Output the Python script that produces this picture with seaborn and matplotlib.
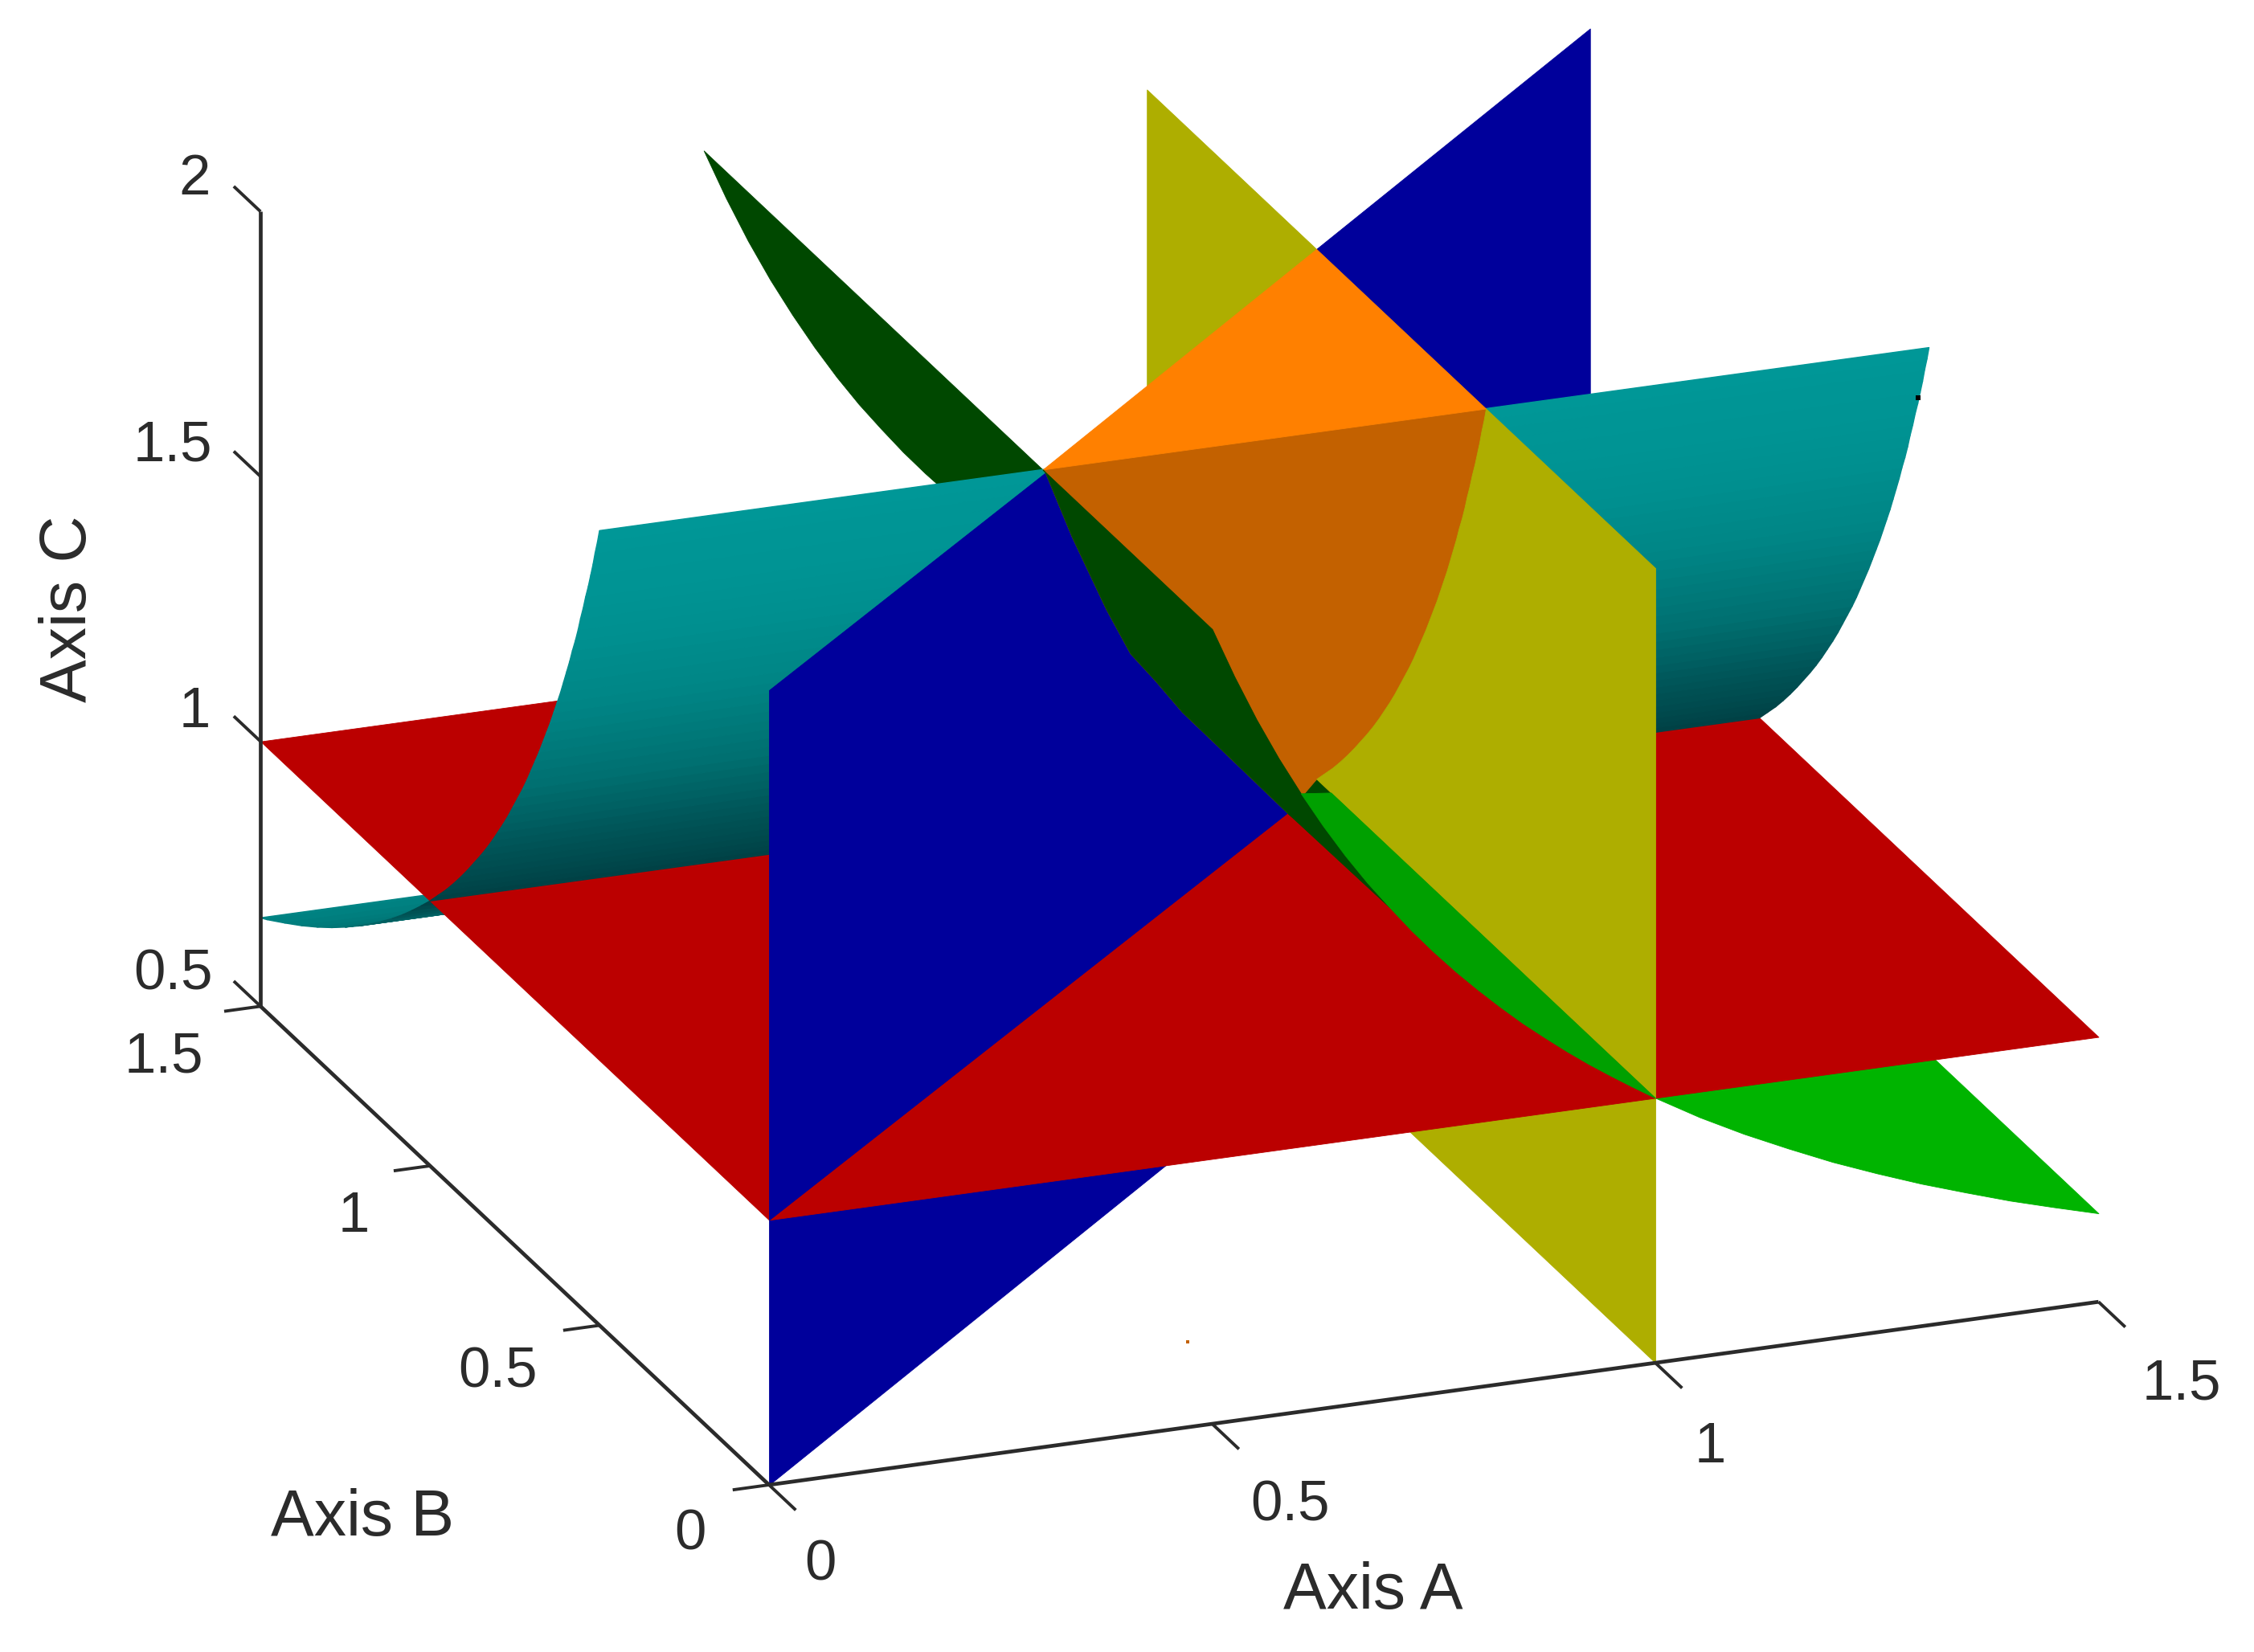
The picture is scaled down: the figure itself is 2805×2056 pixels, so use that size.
import numpy as np
import matplotlib
matplotlib.use("Agg")
import matplotlib.pyplot as plt
import seaborn as sns
from mpl_toolkits.mplot3d import proj3d
from mpl_toolkits.mplot3d.art3d import Poly3DCollection

# ---- data -----------------------------------------------------------------
a_ticks = [0, 0.5, 1, 1.5]
b_ticks = [0, 0.5, 1, 1.5]
c_ticks = [0.5, 1, 1.5, 2]
a_tick_labels = ["0", "0.5", "1", "1.5"]
b_tick_labels = ["0", "0.5", "1", "1.5"]
c_tick_labels = ["0.5", "1", "1.5", "2"]

# teal sheet profile
cyan_c = [2.0, 1.975, 1.95, 1.925, 1.9, 1.875, 1.85, 1.825, 1.8, 1.775, 1.75, 1.725, 1.7, 1.675,
          1.65, 1.625, 1.6, 1.575, 1.55, 1.525, 1.5, 1.475, 1.45, 1.425, 1.4, 1.375, 1.35, 1.325,
          1.3, 1.275, 1.25, 1.225, 1.2, 1.175, 1.15, 1.125, 1.1, 1.075, 1.05, 1.025, 1.0,
          0.975, 0.95, 0.925, 0.9, 0.875, 0.85, 0.825, 0.8, 0.775, 0.75, 0.725, 0.7, 0.675, 0.667]
cyan_b = [0.5, 0.506, 0.513, 0.519, 0.526, 0.533, 0.541, 0.548, 0.556, 0.563, 0.571, 0.58, 0.588, 0.597,
          0.606, 0.615, 0.625, 0.635, 0.645, 0.656, 0.667, 0.678, 0.69, 0.702, 0.714, 0.727, 0.741, 0.755,
          0.769, 0.784, 0.8, 0.816, 0.833, 0.851, 0.87, 0.889, 0.909, 0.93, 0.952, 0.976, 1.0,
          1.026, 1.053, 1.081, 1.111, 1.143, 1.176, 1.212, 1.25, 1.29, 1.333, 1.379, 1.429, 1.481, 1.5]
# green sheet profile
green_a = [0.5, 0.525, 0.55, 0.575, 0.6, 0.625, 0.65, 0.675, 0.7, 0.725, 0.75, 0.775, 0.8, 0.825,
           0.85, 0.875, 0.9, 0.925, 0.95, 0.975, 1.0, 1.05, 1.1, 1.15, 1.2, 1.25, 1.3, 1.35, 1.4, 1.45, 1.5]
green_c = [2.0, 1.905, 1.818, 1.739, 1.667, 1.6, 1.538, 1.481, 1.429, 1.379, 1.333, 1.29, 1.25, 1.212,
           1.176, 1.143, 1.111, 1.081, 1.053, 1.026, 1.0, 0.952, 0.909, 0.87, 0.833, 0.8, 0.769, 0.741,
           0.714, 0.69, 0.667]
# where the green sheet meets the blue plane
meet_a = [0.505, 0.553, 0.616, 0.66, 0.706, 0.755, 0.81, 0.947]
meet_c = [1.99, 1.83, 1.64, 1.52, 1.43, 1.33, 1.23, 0.98]

a_min, a_max, b_min, b_max, c_min, c_max = 0, 1.5, 0, 1.5, 0.5, 2

speck_orange = (0.562, 0.234, 0.5)
speck_black = (1.5, 0.532, 1.886)

# ---- style ----------------------------------------------------------------
sns.set_theme(style="white")
plt.rcParams["font.family"] = ["Liberation Sans", "DejaVu Sans"]

def rgb(r, g, b):
    return (r / 255, g / 255, b / 255)

RED = rgb(187, 0, 0)
BLUE = rgb(0, 0, 155)
YELLOW = rgb(174, 174, 0)
ORANGE = rgb(255, 128, 0)
BROWN = rgb(195, 97, 0)
GREEN_DARK = rgb(0, 72, 0)
GREEN_LENS = rgb(0, 160, 0)
GREEN_LOW = rgb(0, 180, 0)
INK = "#2b2b2b"

# colours at c = 0.6, 0.8, ... 2.0
teal_map = sns.blend_palette(
    [rgb(0, 140, 140), rgb(0, 115, 115), rgb(0, 64, 68), rgb(0, 84, 87),
     rgb(0, 113, 114), rgb(0, 134, 134), rgb(0, 146, 146), rgb(0, 151, 151)],
    as_cmap=True)

W, H = 2805, 2056
fig = plt.figure(figsize=(W / 100, H / 100), dpi=100, facecolor="white")
side = float(W)
ax = fig.add_axes([0, 0, 1, side / H], projection="3d", computed_zorder=False)
ax.set_proj_type("ortho")
ax.view_init(elev=21.1, azim=-110.93)
ax.set_box_aspect((1, 1, 0.5985))
ax.set_axis_off()
ax.patch.set_visible(False)

order = [0]

def face(verts, color):
    order[0] += 1
    pc = Poly3DCollection([verts], facecolors=[color], edgecolors=[color], linewidths=0.6)
    pc.set_zorder(order[0])
    ax.add_collection3d(pc, autolim=False)

def strips(indices):
    order[0] += 1
    verts, cols = [], []
    for i in indices:
        verts.append([(a_min, cyan_b[i], cyan_c[i]), (a_max, cyan_b[i], cyan_c[i]),
                      (a_max, cyan_b[i + 1], cyan_c[i + 1]), (a_min, cyan_b[i + 1], cyan_c[i + 1])])
        cols.append(teal_map((0.5 * (cyan_c[i] + cyan_c[i + 1]) - 0.6) / 1.4))
    pc = Poly3DCollection(verts, facecolors=cols, edgecolors=cols, linewidths=1.0)
    pc.set_zorder(order[0])
    ax.add_collection3d(pc, autolim=False)

n_up = cyan_c.index(1.0)          # rows of the teal sheet above c = 1
n_gr = green_a.index(1.0)         # rows of the green sheet left of a = 1
n_lens = green_a.index(0.6)       # where the bright lens starts
n_dark = green_a.index(0.7)       # where the dark strip ends
curve_a1 = [(1.0, b, c) for b, c in zip(cyan_b[:n_up + 1], cyan_c[:n_up + 1])]
meet = [(a, a, c) for a, c in zip(meet_a, meet_c)]

# --- below the red plane
green_low = [(a, b_min, c) for a, c in zip(green_a[n_gr:], green_c[n_gr:])]
green_low += [(a, b_max, c) for a, c in zip(green_a[n_gr:][::-1], green_c[n_gr:][::-1])]
face(green_low, GREEN_LOW)
face([(1, b_min, c_min), (1, b_min, 1), (1, b_max, 1), (1, b_max, c_min)], YELLOW)
face([(a_min, a_min, c_min), (a_min, a_min, 1), (a_max, a_max, 1), (a_max, a_max, c_min)], BLUE)
strips(range(n_up, len(cyan_c) - 1))
# --- red plane
face([(a_min, b_min, 1), (a_max, b_min, 1), (a_max, b_max, 1), (a_min, b_max, 1)], RED)
# --- above the red plane, back to front
face([(1, 1, 1), (1, 1, c_max), (a_max, a_max, c_max), (a_max, a_max, 1)], BLUE)
face([(1, 1, 1), (1, 1, c_max), (1, b_max, c_max), (1, b_max, 1)], YELLOW)
green_back = [(a, 0.5, c) for a, c in zip(green_a[:n_gr + 1], green_c[:n_gr + 1])]
green_back += [(a, b_max, c) for a, c in zip(green_a[:n_gr + 1][::-1], green_c[:n_gr + 1][::-1])]
face(green_back, GREEN_DARK)
strips(range(0, n_up))
face([(a_min, a_min, 1), (a_min, a_min, c_max)] + meet, BLUE)
face([(0.5, 0.5, c_max)] + curve_a1 + meet[::-1], BROWN)
face([(0.5, 0.5, c_max), (1, 1, c_max), (1, 0.5, c_max)], ORANGE)
face([(1, b_min, 1), (1, b_min, c_max)] + curve_a1, YELLOW)
dark_front = ([(0.5, 0.5, c_max)]
              + [(a, b_min, c) for a, c in zip(green_a[:n_dark + 1], green_c[:n_dark + 1])]
              + meet[::-1])
face(dark_front, GREEN_DARK)
bright = ([(a, b_min, c) for a, c in zip(green_a[n_lens:n_gr + 1], green_c[n_lens:n_gr + 1])]
          + [(1, 0.957, 1)])
face(bright, GREEN_LENS)

ax.set_xlim(a_min, a_max)
ax.set_ylim(b_min, b_max)
ax.set_zlim(c_min, c_max)

# --- axis lines and ticks, in data coordinates
Z = order[0] + 1
line = dict(color=INK, lw=3.4, zorder=Z, solid_capstyle="butt")
ax.plot([a_min, a_max], [b_min, b_min], [c_min, c_min], **line)
ax.plot([a_min, a_min], [b_min, b_max], [c_min, c_min], **line)
ax.plot([a_min, a_min], [b_max, b_max], [c_min, c_max], **line)
tick = dict(color=INK, lw=2.8, zorder=Z, solid_capstyle="butt")
for a in a_ticks:
    ax.plot([a, a], [b_min, b_min - 0.079], [c_min, c_min], **tick)
for b in b_ticks:
    ax.plot([a_min, a_min - 0.041], [b, b], [c_min, c_min], **tick)
for c in c_ticks:
    ax.plot([a_min, a_min], [b_max, b_max + 0.079], [c, c], **tick)

ax.plot(*[[v] for v in speck_orange], marker="s", ms=3.5, mew=0, color=BROWN, zorder=Z)
ax.plot(*[[v] for v in speck_black], marker="s", ms=4, mew=0, color="black", zorder=Z)

# --- fit the projection onto the canvas
def px(a, b, c):
    x, y, _ = proj3d.proj_transform(a, b, c, ax.get_proj())
    return ax.transData.transform((x, y))

ax.apply_aspect()
p0, p1 = px(a_min, b_min, c_min), px(a_max, b_min, c_min)
side *= 1103 * 1.5 / (p1[0] - p0[0])
ax.set_position([0, 0, side / W, side / H])
ax.apply_aspect()
p0 = px(a_min, b_min, c_min)
ax.set_position([(957 - p0[0]) / W, ((H - 1848) - p0[1]) / H, side / W, side / H])
ax.apply_aspect()

# --- text, anchored on the data with offsets in (shrunk) picture pixels
K = W / 1568

def label(pt, dx, dy, s, size, **kw):
    x, y, _ = proj3d.proj_transform(*pt, ax.get_proj())
    ax.annotate(s, (x, y), xytext=(dx * K, -dy * K), textcoords="offset pixels",
                ha="center", va="center", fontsize=size, color=INK,
                annotation_clip=False, zorder=Z + 1, **kw)

TICK_SIZE, LABEL_SIZE = 51, 58
for a, s, dx, dy in zip(a_ticks, a_tick_labels, [36, 54, 38, 58], [56, 57, 59, 58]):
    label((a, b_min, c_min), dx, dy, s, TICK_SIZE)
for b, s, dx, dy in zip(b_ticks, b_tick_labels, [-55, -71, -53, -67], [35, 33, 36, 36]):
    label((a_min, b, c_min), dx, dy, s, TICK_SIZE)
for c, s, dx, dy in zip(c_ticks, c_tick_labels, [-61, -46, -61, -46], [-22, -20, -21, -22]):
    label((a_min, b_max, c), dx, dy, s, TICK_SIZE)
label((0.75, b_min, c_min), -42, 138, "Axis A", LABEL_SIZE)
label((a_min, 0.75, c_min), -106, 190, "Axis B", LABEL_SIZE)
label((a_min, b_max, 1.25), -133, 0, "Axis C", LABEL_SIZE, rotation=90)

fig.savefig("out.png", dpi=100, facecolor="white")
